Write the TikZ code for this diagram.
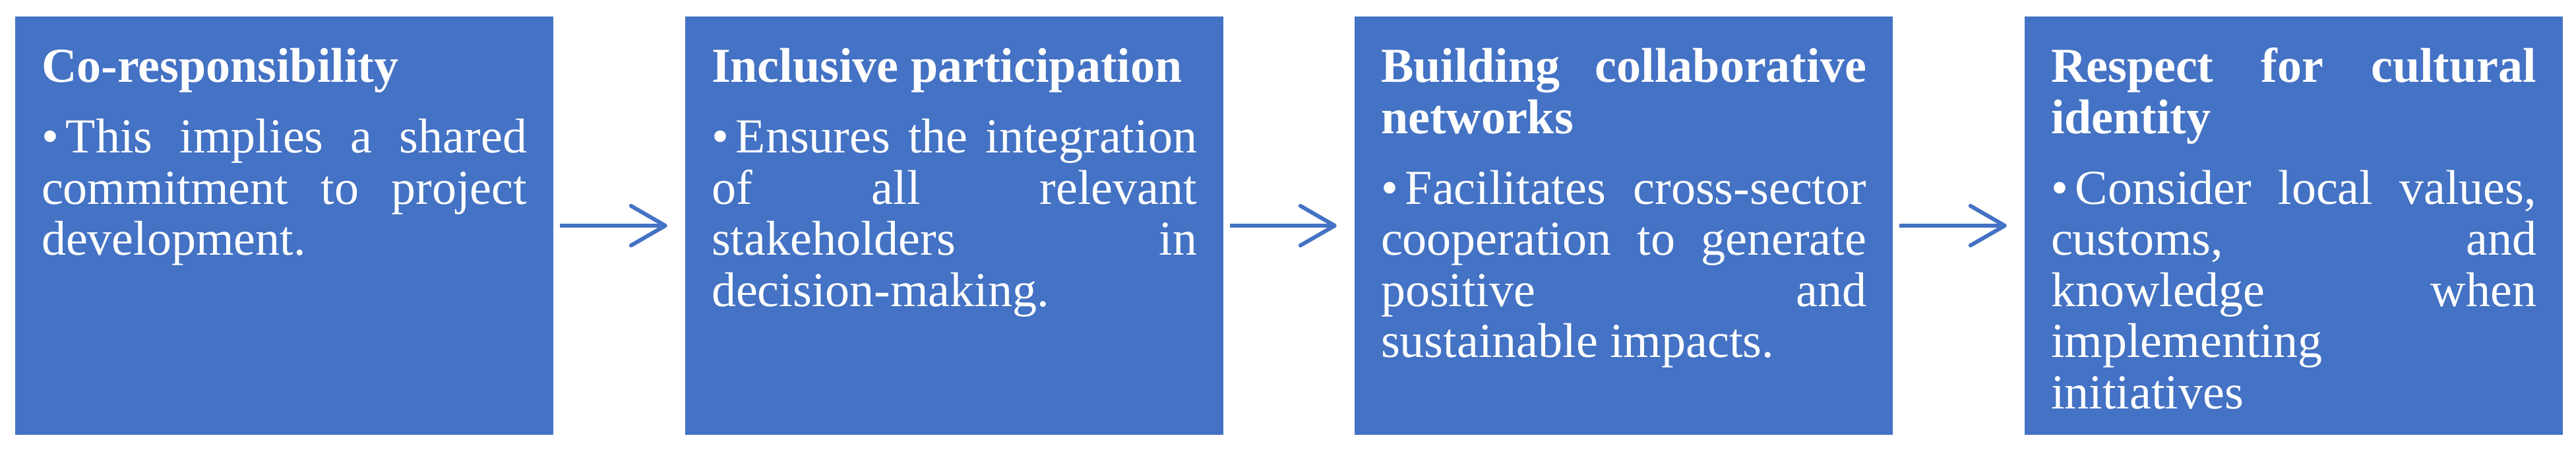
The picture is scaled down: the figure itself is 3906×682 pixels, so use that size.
\documentclass[tikz,border=0pt]{standalone}
\usepackage{fontspec}
\setmainfont{Liberation Serif}
\usetikzlibrary{arrows.meta}
\definecolor{boxblue}{HTML}{4472C4}
\newcommand{\parsetup}{\tolerance=10000 \pretolerance=10000 \hyphenpenalty=10000 \exhyphenpenalty=10000 \parindent=0pt\relax}
\newcommand{\ttl}[1]{\textbf{\vrule height 60pt depth 0pt width 0pt\relax #1}\par\vspace{29.5pt}}
\newcommand{\bul}{\hangindent=37pt\hangafter=1\relax\makebox[37pt][l]{•}}
\begin{document}
\begin{tikzpicture}[x=1pt,y=-1pt,
  box/.style={rectangle, fill=boxblue, draw=none, inner sep=0pt,
    minimum width=816pt, minimum height=634pt},
  txt/.style={anchor=north west, inner sep=0pt, text width=736pt, align=justify,
    text=white, xshift=40pt, yshift=-40pt,
    font=\fontsize{74}{77.5}\selectfont},
  arr/.style={draw=boxblue, line width=6pt, shorten <=10pt, shorten >=27pt,
    -{Straight Barb[length=52pt,width=60pt,round]}}
]
\useasboundingbox (0,0) rectangle (3906,682);

\node[box] (b1) at (431,342) {};
\node[box] (b2) at (1447,342) {};
\node[box] (b3) at (2462,342) {};
\node[box] (b4) at (3478,342) {};

\node[txt] (t1) at (b1.north west) {\parsetup\ttl{Co-responsibility}\bul This implies a shared\linebreak commitment to project\linebreak development.};
\node[txt] (t2) at (b2.north west) {\parsetup\ttl{Inclusive participation}\bul Ensures the integration\linebreak of all relevant\linebreak stakeholders in\linebreak decision-making.};
\node[txt] (t3) at (b3.north west) {\parsetup\ttl{Building collaborative\linebreak networks}\bul Facilitates cross-sector\linebreak cooperation to generate\linebreak positive and\linebreak sustainable impacts.};
\node[txt] (t4) at (b4.north west) {\parsetup\ttl{Respect for cultural\linebreak identity}\bul Consider local values,\linebreak customs, and\linebreak knowledge when\linebreak implementing\linebreak initiatives};

\draw[arr] (b1.east) -- (b2.west);
\draw[arr] (b2.east) -- (b3.west);
\draw[arr] (b3.east) -- (b4.west);
\end{tikzpicture}
\end{document}
